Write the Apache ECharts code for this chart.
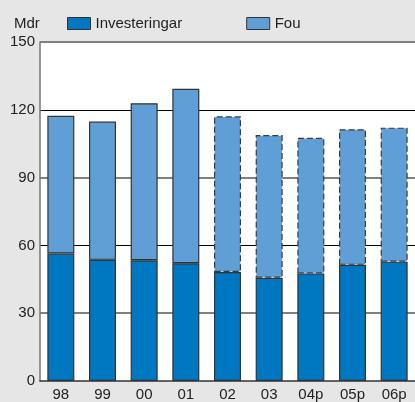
<!DOCTYPE html>
<html><head><meta charset="utf-8">
<script src="https://cdn.jsdelivr.net/npm/echarts@6/dist/echarts.min.js"></script>
<style>html,body{margin:0;padding:0;background:#e6e6e6;}#c{width:415px;height:402px;}</style>
</head><body><div id="c"></div>
<script>
var categories = ['98','99','00','01','02','03','04p','05p','06p'];
var investeringar = [56.4, 53.6, 53.4, 52.1, 48.2, 45.7, 47.6, 51.4, 52.8];
var fou = [61.0, 61.2, 69.5, 77.2, 68.9, 63.1, 60.0, 60.0, 59.3];
var yTicks = [0, 30, 60, 90, 120, 150];
var seriesNames = ['Investeringar', 'Fou'];
var unitLabel = 'Mdr';

var FONT = '"Liberation Sans", Arial, sans-serif';
var firstProjected = 4;
var colInv = '#0077c1', colFou = '#5f9fd6';

function items(vals, dashed) {
  return vals.map(function (v, i) {
    var proj = i >= firstProjected;
    return {
      value: v,
      itemStyle: {
        borderType: (proj && dashed) ? [6, 3] : 'solid',
        borderColor: (proj && dashed) ? '#3a3a3a' : '#333',
        borderWidth: 1.2
      }
    };
  });
}

var chart = echarts.init(document.getElementById('c'));
chart.setOption({
  backgroundColor: '#e6e6e6',
  animation: false,
  title: { text: unitLabel, left: 14, top: 16, padding: 0, textStyle: { fontFamily: FONT, fontSize: 15, fontWeight: 'normal', color: '#222' } },
  legend: {
    left: 67, top: 16, padding: 0, itemWidth: 23, itemHeight: 12, itemGap: 64, icon: 'rect',
    textStyle: { fontFamily: FONT, fontSize: 15, color: '#222' },
    data: seriesNames.map(function (n) { return { name: n, itemStyle: { borderColor: '#333', borderWidth: 1, borderType: 'solid' } }; })
  },
  grid: { left: 40, right: 0, top: 42, bottom: 18, backgroundColor: '#fff', show: true, borderWidth: 0 },
  xAxis: {
    type: 'category', data: categories,
    axisLine: { lineStyle: { color: '#333', width: 1.5 } },
    axisTick: { show: false },
    axisLabel: { fontFamily: FONT, fontSize: 15, color: '#222', margin: 6 }
  },
  yAxis: [{
    type: 'value', min: yTicks[0], max: yTicks[yTicks.length - 1], interval: 30,
    axisLine: { show: true, lineStyle: { color: '#777', width: 1.5 } },
    axisTick: { show: false },
    axisLabel: { fontFamily: FONT, fontSize: 15, color: '#222', margin: 5 },
    splitLine: { show: true, lineStyle: { width: 2, color: ['rgba(0,0,0,0)', '#808080', 'rgba(0,0,0,0)', '#808080', 'rgba(0,0,0,0)', '#808080'] } }
  }, {
    type: 'value', min: yTicks[0], max: yTicks[yTicks.length - 1], interval: 60, position: 'left',
    axisLine: { show: false }, axisTick: { show: false }, axisLabel: { show: false },
    splitLine: { show: true, lineStyle: { width: 1.2, color: ['rgba(0,0,0,0)', '#000', '#000'] } }
  }],
  series: [{
    name: seriesNames[0], type: 'bar', stack: 's', barWidth: 27,
    itemStyle: { color: colInv, borderColor: '#333', borderWidth: 1.2 },
    data: items(investeringar, false)
  }, {
    name: seriesNames[1], type: 'bar', stack: 's', barWidth: 27,
    itemStyle: { color: colFou, borderColor: '#333', borderWidth: 1.2 },
    data: items(fou, true)
  }]
});
</script></body></html>
